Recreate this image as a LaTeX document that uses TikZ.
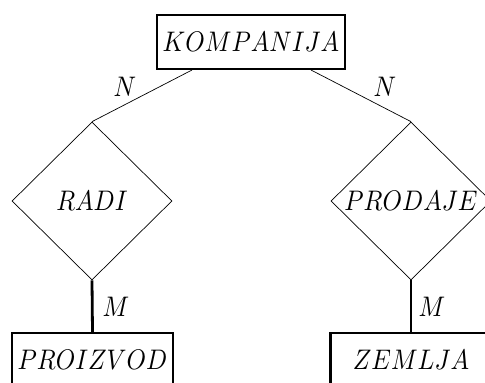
\documentclass[tikz,border=0pt]{standalone}
\usepackage{graphicx}
\usetikzlibrary{shapes.geometric,calc}
\newcommand{\bigtxt}[1]{\scalebox{2.47}[2.83]{$#1$}}
\begin{document}
\begin{tikzpicture}[x=1pt,y=-1pt,
  entity/.style={draw,rectangle,line width=2pt,minimum width=188pt,minimum height=54pt,inner sep=0pt},
  ent2/.style={draw,rectangle,line width=2.4pt,minimum width=161pt,minimum height=54pt,inner sep=0pt},
  rel/.style={draw,diamond,line width=0.7pt,minimum width=160pt,minimum height=158pt,inner sep=0pt},
  thin/.style={line width=0.7pt},
  thickl/.style={line width=2.8pt},
  card/.style={inner sep=0pt}]
\useasboundingbox (0,0) rectangle (485,383);
\clip (0,0) rectangle (485,383);
\node[entity] (komp) at (251,42) {\bigtxt{KOMPANIJA}};
\node[rel] (radi) at (92,201) {\bigtxt{RADI}};
\node[rel] (prod) at (411,201) {\bigtxt{PRODAJE}};
\node[ent2] (proiz) at (92.5,360) {\bigtxt{PROIZVOD}};
\node[ent2] (zem) at (411,360) {\bigtxt{ZEMLJA}};
\draw[thin] ([xshift=36pt]komp.south west) -- (radi.north);
\draw[thin] ([xshift=-35pt]komp.south east) -- (prod.north);
\draw[thickl] (radi.south) -- (proiz.north);
\draw[thickl] (prod.south) -- (zem.north);
\node[card] (n1) at (125,87) {\bigtxt{N}};
\node[card] (n2) at (385,87) {\bigtxt{N}};
\node[card] (m1) at (116,307) {\bigtxt{M}};
\node[card] (m2) at (432,307) {\bigtxt{M}};
\end{tikzpicture}
\end{document}
